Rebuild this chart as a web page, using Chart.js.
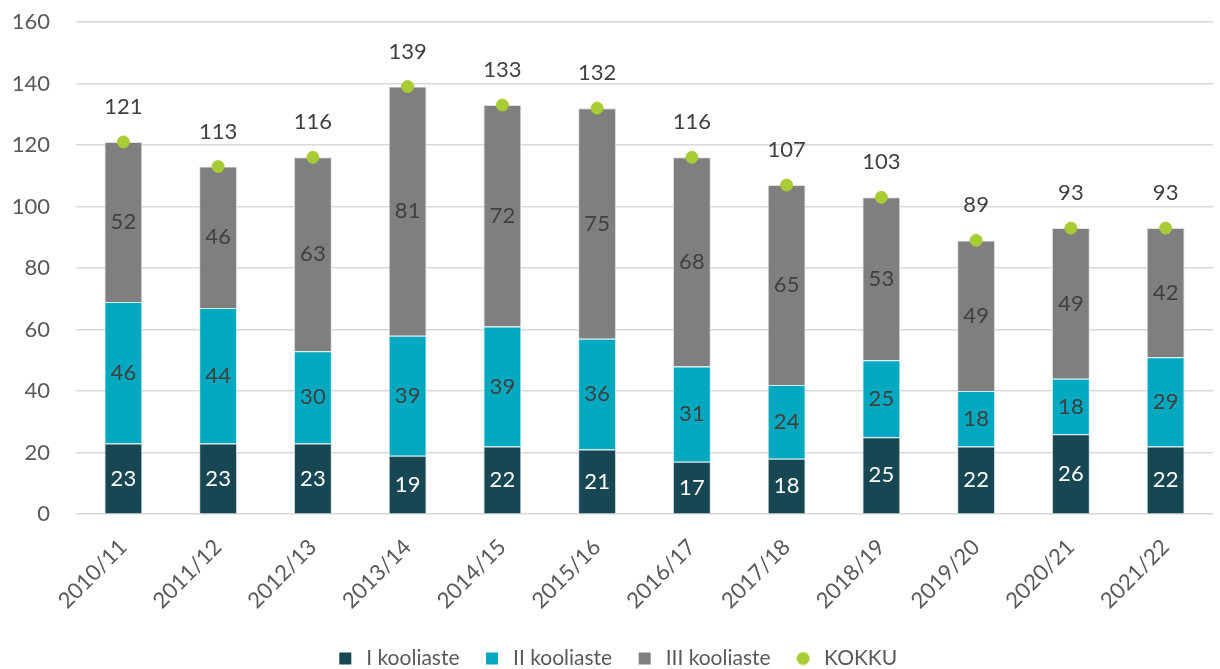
<!DOCTYPE html>
<html>
<head>
<meta charset="utf-8">
<script src="https://cdn.jsdelivr.net/npm/chart.js@4/dist/chart.umd.min.js"></script>
<style>
  html, body { margin: 0; padding: 0; background: #fff; }
  #wrap { width: 1220px; height: 669px; }
</style>
</head>
<body>
<div id="wrap"><canvas id="myChart"></canvas></div>
<script>
const years = ['2010/11', '2011/12', '2012/13', '2013/14', '2014/15', '2015/16',
  '2016/17', '2017/18', '2018/19', '2019/20', '2020/21', '2021/22'];
const stage1 = [23, 23, 23, 19, 22, 21, 17, 18, 25, 22, 26, 22];
const stage2 = [46, 44, 30, 39, 39, 36, 31, 24, 25, 18, 18, 29];
const stage3 = [52, 46, 63, 81, 72, 75, 68, 65, 53, 49, 49, 42];
const totals = [121, 113, 116, 139, 133, 132, 116, 107, 103, 89, 93, 93];

const FONT = 'Lato, "Open Sans", sans-serif';
const TEXT = '#595959';

// little legend markers
function marker(color, round) {
  const c = document.createElement('canvas');
  c.width = 14; c.height = 14;
  const g = c.getContext('2d');
  g.fillStyle = color;
  if (round) {
    g.beginPath();
    g.arc(7, 7, 6.5, 0, Math.PI * 2);
    g.fill();
  } else {
    g.fillRect(1, 1, 12, 12);
  }
  return c;
}

// draws numbers inside bars and above total points
const valueLabels = {
  id: 'valueLabels',
  afterDatasetsDraw(chart) {
    const ctx = chart.ctx;
    ctx.save();
    ctx.font = '22px ' + FONT;
    ctx.textAlign = 'center';
    ctx.textBaseline = 'middle';
    chart.data.datasets.forEach((ds, i) => {
      const meta = chart.getDatasetMeta(i);
      meta.data.forEach((el, j) => {
        const v = ds.data[j];
        if (ds.type === 'line') {
          ctx.fillStyle = '#404040';
          ctx.fillText(v, el.x, el.y - 35);
        } else {
          ctx.fillStyle = ds.label === 'I kooliaste' ? '#ffffff' : '#404040';
          ctx.fillText(v, el.x, (el.y + el.base) / 2);
        }
      });
    });
    ctx.restore();
  }
};

const ctx = document.getElementById('myChart').getContext('2d');
new Chart(ctx, {
  data: {
    labels: years,
    datasets: [
      {
        type: 'line',
        label: 'KOKKU',
        data: totals,
        showLine: false,
        pointRadius: 6,
        pointHoverRadius: 6,
        pointBackgroundColor: '#A9CC36',
        pointBorderColor: '#A9CC36',
        backgroundColor: '#A9CC36',
        borderColor: '#A9CC36',
        order: 0
      },
      {
        type: 'bar',
        label: 'I kooliaste',
        data: stage1,
        backgroundColor: '#164753',
        borderColor: '#d0dde0',
        borderWidth: 1,
        order: 1
      },
      {
        type: 'bar',
        label: 'II kooliaste',
        data: stage2,
        backgroundColor: '#00A9BF',
        borderColor: '#d0eef2',
        borderWidth: 1,
        order: 1
      },
      {
        type: 'bar',
        label: 'III kooliaste',
        data: stage3,
        backgroundColor: '#7F7F7F',
        borderColor: '#e0e0e0',
        borderWidth: 1,
        order: 1
      }
    ]
  },
  options: {
    responsive: true,
    maintainAspectRatio: false,
    animation: false,
    layout: { padding: { left: 12, right: 0, top: 22, bottom: -10 } },
    datasets: { bar: { categoryPercentage: 1, barPercentage: 0.4 } },
    scales: {
      x: {
        stacked: true,
        grid: { display: false },
        border: { display: false },
        afterFit(scale) {
          scale.paddingLeft = 0;
          scale.paddingRight = 0;
        },
        ticks: {
          color: TEXT,
          font: { family: FONT, size: 22 },
          minRotation: 45,
          maxRotation: 45,
          padding: 12
        }
      },
      y: {
        stacked: true,
        min: 0,
        max: 160,
        afterFit(scale) {
          scale.width = 64;
          scale.paddingTop = 0;
          scale.paddingBottom = 0;
        },
        ticks: {
          stepSize: 20,
          color: TEXT,
          font: { family: FONT, size: 22 },
          padding: 26
        },
        grid: { color: '#d9d9d9', lineWidth: 1.5, drawTicks: false },
        border: { display: false }
      }
    },
    plugins: {
      tooltip: { enabled: false },
      legend: {
        position: 'bottom',
        labels: {
          color: TEXT,
          font: { family: FONT, size: 21 },
          usePointStyle: true,
          padding: 22,
          generateLabels(chart) {
            const order = [1, 2, 3, 0];
            return order.map(i => {
              const ds = chart.data.datasets[i];
              return {
                text: ds.label,
                fillStyle: ds.backgroundColor,
                strokeStyle: ds.backgroundColor,
                lineWidth: 0,
                pointStyle: marker(ds.backgroundColor, ds.type === 'line'),
                fontColor: TEXT,
                datasetIndex: i
              };
            });
          }
        }
      }
    }
  },
  plugins: [valueLabels]
});
</script>
</body>
</html>
